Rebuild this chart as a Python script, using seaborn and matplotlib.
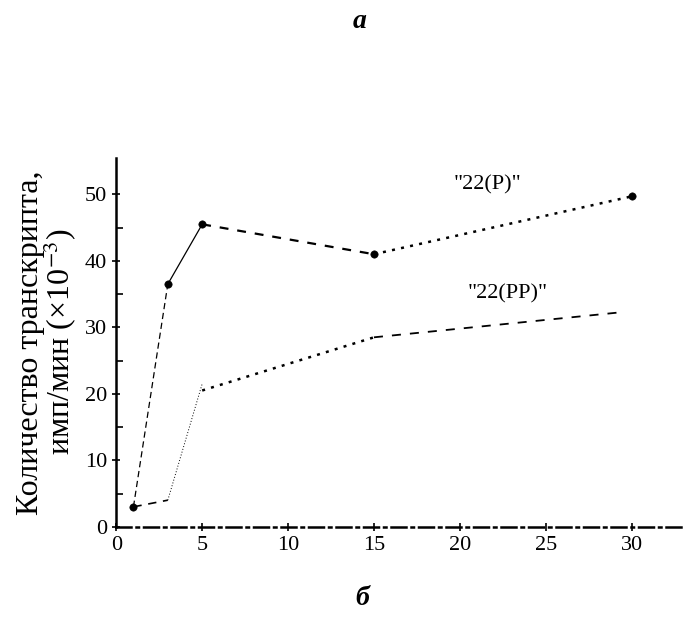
import matplotlib
matplotlib.use("Agg")
import matplotlib.pyplot as plt
import seaborn as sns
import numpy as np

# Time points, min
TIME_P = [1, 3, 5, 15, 30]
COUNT_P = [3.0, 36.5, 45.5, 41.0, 49.7]
TIME_PP = [1, 3, 5, 5, 15, 29.5]
COUNT_PP = [3.0, 4.0, 21.5, 20.5, 28.5, 32.3]

# segment styles (one per gap between points)
STYLE_P = [((0, (5, 3)), 0.9), ("-", 0.9), ((0, (4, 4)), 1.6), ((0, (1.2, 2.5)), 1.8)]
STYLE_PP = [((0, (5, 4)), 1.2), ((0, (1, 2)), 0.7), ("-", 0.0), ((0, (1.2, 2.5)), 1.8), ((0, (5, 5)), 1.3)]

sns.set_style("ticks")
plt.rcParams["font.family"] = ["Liberation Serif", "DejaVu Serif"]
plt.rcParams["mathtext.fontset"] = "stix"
plt.rcParams["text.color"] = "black"
plt.rcParams["axes.labelcolor"] = "black"
plt.rcParams["xtick.color"] = "black"
plt.rcParams["ytick.color"] = "black"
plt.rcParams["axes.edgecolor"] = "black"

fig = plt.figure(figsize=(6.88, 6.19), dpi=100)
ax = fig.add_axes([0.169, 0.149, 0.824, 0.596])


def draw_segments(xs, ys, styles):
    for i, (ls, lw) in enumerate(styles):
        if lw == 0:
            continue
        sns.lineplot(x=xs[i:i + 2], y=ys[i:i + 2], ax=ax, color="black",
                     linestyle=ls, linewidth=lw, sort=False)


draw_segments(TIME_P, COUNT_P, STYLE_P)
draw_segments(TIME_PP, COUNT_PP, STYLE_PP)
sns.scatterplot(x=TIME_P, y=COUNT_P, ax=ax, color="black", s=28, marker="o",
                edgecolor="black")

ax.set_xlim(0, 33)
ax.set_ylim(0, 55.5)
ax.set_xticks([0, 5, 10, 15, 20, 25, 30])
ax.set_yticks([0, 10, 20, 30, 40, 50])
ax.set_yticks(np.arange(5, 55, 10), minor=True)
ax.tick_params(axis="both", labelsize=16, direction="inout", length=6, width=1.2)
ax.tick_params(axis="y", which="minor", direction="in", length=5, width=1.2)

for s in ["top", "right"]:
    ax.spines[s].set_visible(False)
ax.spines["left"].set_linewidth(1.8)
ax.spines["bottom"].set_linestyle((0, (6, 2, 1, 2)))
ax.spines["bottom"].set_linewidth(1.8)

ax.set_ylabel("Количество транскрипта,\nимп/мин (×10$^{-3}$)", fontsize=23,
              labelpad=4, linespacing=0.9)

ax.text(21.6, 51.5, "\"22(P)\"", fontsize=16, ha="center", va="center")
ax.text(22.8, 35.0, "\"22(PP)\"", fontsize=16, ha="center", va="center")

fig.text(0.523, 0.965, "а", fontsize=20, style="italic", weight="bold",
         ha="center", va="center")
fig.text(0.526, 0.033, "б", fontsize=20, style="italic", weight="bold",
         ha="center", va="center")

plt.savefig("out.png", dpi=100)
